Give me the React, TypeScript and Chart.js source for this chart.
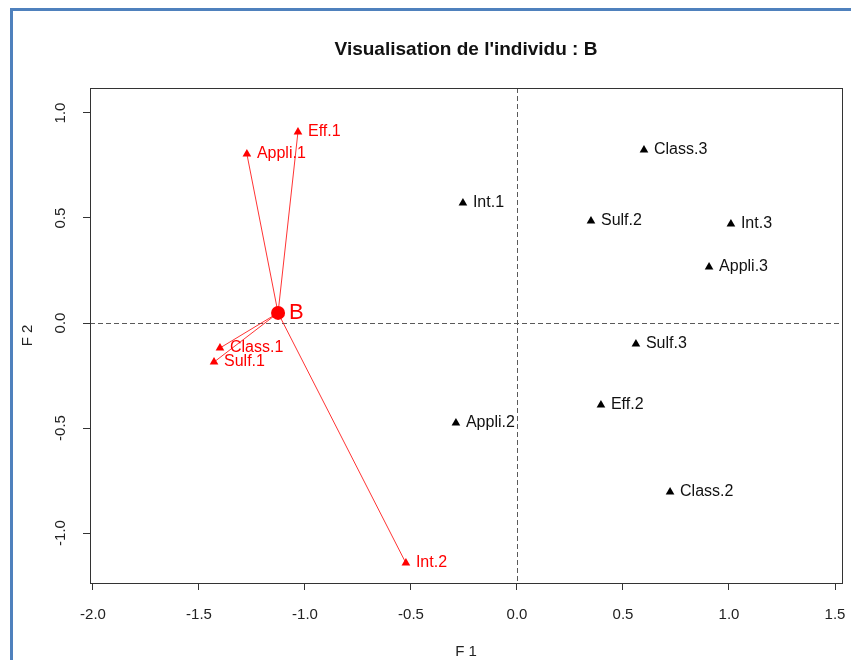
import { useEffect, useRef } from "react";
import { Chart, registerables } from "chart.js";

Chart.register(...registerables);

// Modalités actives (plan factoriel F1 x F2)
const activeLabels = ["Class.3", "Int.1", "Sulf.2", "Int.3", "Appli.3", "Sulf.3", "Eff.2", "Appli.2", "Class.2"];
const activeF1 = [0.599, -0.255, 0.349, 1.009, 0.906, 0.561, 0.396, -0.288, 0.722];
const activeF2 = [0.824, 0.571, 0.486, 0.471, 0.267, -0.1, -0.39, -0.476, -0.805];

// Modalités prises par l'individu B
const individualLabels = ["Eff.1", "Appli.1", "Class.1", "Sulf.1", "Int.2"];
const individualF1 = [-1.033, -1.274, -1.401, -1.429, -0.524];
const individualF2 = [0.91, 0.805, -0.119, -0.186, -1.143];

// Position de l'individu
const centreLabel = "B";
const centreF1 = -1.127;
const centreF2 = 0.048;

// Axes
const xTicks = [-2, -1.5, -1, -0.5, 0, 0.5, 1, 1.5];
const yTicks = [-1, -0.5, 0, 0.5, 1];
const xRange = [-2.014, 1.533];
const yRange = [-1.238, 1.119];
const chartTitle = "Visualisation de l'individu : B";
const xTitle = "F 1";
const yTitle = "F 2";

const FONT = "'Liberation Sans', Arial, Helvetica, sans-serif";
const RED = "#ff0000";

const overlayPlugin = {
  id: "factorOverlay",
  beforeDatasetsDraw(chart: any) {
    const { ctx, chartArea, scales } = chart;
    const x0 = Math.round(scales.x.getPixelForValue(0)) + 0.5;
    const y0 = Math.round(scales.y.getPixelForValue(0)) + 0.5;
    ctx.save();
    ctx.strokeStyle = "#5a5a5a";
    ctx.lineWidth = 1;
    ctx.setLineDash([5, 3]);
    ctx.beginPath();
    ctx.moveTo(chartArea.left, y0);
    ctx.lineTo(chartArea.right, y0);
    ctx.moveTo(x0, chartArea.top);
    ctx.lineTo(x0, chartArea.bottom);
    ctx.stroke();
    ctx.restore();
  },
  afterDatasetsDraw(chart: any) {
    const { ctx, chartArea } = chart;
    ctx.save();
    // cadre du graphique
    ctx.strokeStyle = "#333";
    ctx.lineWidth = 1;
    ctx.strokeRect(
      Math.round(chartArea.left) + 0.5,
      Math.round(chartArea.top) + 0.5,
      Math.round(chartArea.right - chartArea.left),
      Math.round(chartArea.bottom - chartArea.top)
    );

    ctx.textAlign = "left";
    ctx.textBaseline = "middle";
    ctx.font = `16px ${FONT}`;

    const active = chart.getDatasetMeta(0).data;
    ctx.fillStyle = "#111";
    active.forEach((el: any, i: number) => {
      ctx.fillText(activeLabels[i], el.x + 10, el.y);
    });

    const indiv = chart.getDatasetMeta(1).data;
    ctx.fillStyle = RED;
    indiv.forEach((el: any, i: number) => {
      ctx.fillText(individualLabels[i], el.x + 10, el.y);
    });

    const centreMeta = chart.getDatasetMeta(chart.data.datasets.length - 1).data[0];
    ctx.font = `22px ${FONT}`;
    ctx.fillText(centreLabel, centreMeta.x + 11, centreMeta.y);

    // titre
    ctx.fillStyle = "#111";
    ctx.textAlign = "center";
    ctx.font = `bold 19px ${FONT}`;
    ctx.fillText(chartTitle, (chartArea.left + chartArea.right) / 2, 50);
    ctx.restore();
  },
};

export default function App() {
  const canvasRef = useRef<HTMLCanvasElement | null>(null);

  useEffect(() => {
    const canvas = canvasRef.current;
    if (!canvas) return;

    const segments = individualF1.map((x, i) => ({
      type: "scatter" as const,
      data: [
        { x: centreF1, y: centreF2 },
        { x, y: individualF2[i] },
      ],
      showLine: true,
      borderColor: "rgba(255,0,0,0.8)",
      borderWidth: 1,
      pointRadius: 0,
      fill: false,
    }));

    const tickFont = { family: FONT, size: 15 };

    const chart = new Chart(canvas, {
      type: "scatter",
      data: {
        datasets: [
          {
            data: activeF1.map((x, i) => ({ x, y: activeF2[i] })),
            pointStyle: "triangle",
            pointRadius: 5,
            backgroundColor: "#000",
            borderColor: "#000",
            borderWidth: 0,
          },
          {
            data: individualF1.map((x, i) => ({ x, y: individualF2[i] })),
            pointStyle: "triangle",
            pointRadius: 5,
            backgroundColor: RED,
            borderColor: RED,
            borderWidth: 0,
          },
          ...segments,
          {
            data: [{ x: centreF1, y: centreF2 }],
            pointStyle: "circle",
            pointRadius: 7,
            backgroundColor: RED,
            borderColor: RED,
            borderWidth: 0,
          },
        ],
      } as any,
      options: {
        animation: false,
        responsive: false,
        maintainAspectRatio: false,
        events: [],
        layout: { padding: { left: 0, right: 9, top: 88, bottom: 0 } },
        plugins: {
          legend: { display: false },
          tooltip: { enabled: false },
          title: { display: false },
        },
        scales: {
          x: {
            type: "linear",
            min: xRange[0],
            max: xRange[1],
            afterBuildTicks: (s: any) => {
              s.ticks = xTicks.map((value) => ({ value }));
            },
            afterFit: (s: any) => {
              s.height = 77;
              s.paddingLeft = 0;
              s.paddingRight = 0;
            },
            grid: { drawOnChartArea: false, drawTicks: true, tickLength: 7, color: "#333", lineWidth: 1 },
            border: { display: false },
            ticks: {
              font: tickFont,
              color: "#222",
              padding: 16,
              autoSkip: false,
              maxRotation: 0,
              callback: (v: any) => Number(v).toFixed(1),
            },
            title: { display: true, text: xTitle, font: tickFont, color: "#222", padding: { top: 0, bottom: -1 } },
          },
          y: {
            type: "linear",
            min: yRange[0],
            max: yRange[1],
            afterBuildTicks: (s: any) => {
              s.ticks = yTicks.map((value) => ({ value }));
            },
            afterFit: (s: any) => {
              s.width = 90;
              s.paddingTop = 0;
              s.paddingBottom = 0;
            },
            grid: { drawOnChartArea: false, drawTicks: true, tickLength: 7, color: "#333", lineWidth: 1 },
            border: { display: false },
            ticks: {
              font: tickFont,
              color: "#222",
              padding: 9,
              autoSkip: false,
              minRotation: 90,
              maxRotation: 90,
              crossAlign: "center",
              callback: (v: any) => Number(v).toFixed(1),
            },
            title: { display: true, text: yTitle, font: tickFont, color: "#222", padding: { top: 19, bottom: 0 } },
          },
        },
      } as any,
      plugins: [overlayPlugin],
    });

    return () => chart.destroy();
  }, []);

  return (
    <div style={{ position: "fixed", left: 0, top: 0, width: 851, height: 660, background: "#fff", overflow: "hidden" }}>
      <div
        style={{
          position: "absolute",
          left: 10,
          top: 8,
          width: 860,
          height: 670,
          borderLeft: "3px solid #4f81bd",
          borderTop: "3px solid #4f81bd",
        }}
      />
      <canvas ref={canvasRef} width={851} height={660} style={{ position: "absolute", left: 0, top: 0 }} />
    </div>
  );
}
